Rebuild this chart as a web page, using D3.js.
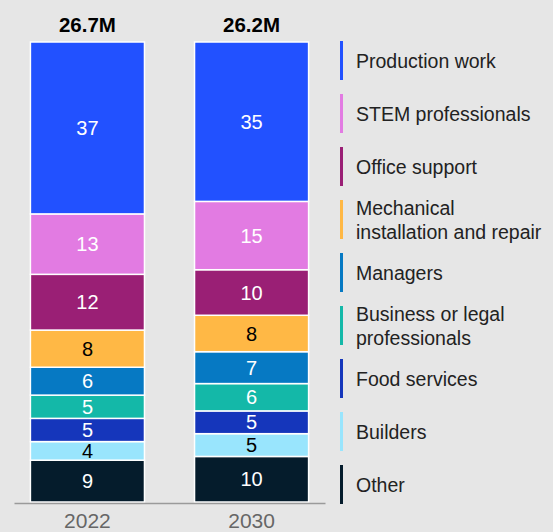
<!DOCTYPE html>
<html lang="en">
<head>
    <meta charset="UTF-8">
    <script src="https://d3js.org/d3.v7.min.js"></script>
    <title>Employment by occupation</title>
    <style>
        body { margin: 0; background-color: #e6e6e6; }
        svg { display: block; font-family: "Liberation Sans", Arial, sans-serif; }
    </style>
</head>
<body>
    <svg width="553" height="532"></svg>
    <script>
    // data
    const years = ["2022", "2030"];
    const totals = ["26.7M", "26.2M"];
    const occupations = ["Production work", "STEM professionals", "Office support",
        "Mechanical installation and repair", "Managers", "Business or legal professionals",
        "Food services", "Builders", "Other"];
    const legendLines = [["Production work"], ["STEM professionals"], ["Office support"],
        ["Mechanical", "installation and repair"], ["Managers"], ["Business or legal", "professionals"],
        ["Food services"], ["Builders"], ["Other"]];
    const values2022 = [37, 13, 12, 8, 6, 5, 5, 4, 9];
    const values2030 = [35, 15, 10, 8, 7, 6, 5, 5, 10];
    const colors = ["#2251ff", "#e27be2", "#9a1f75", "#ffb845", "#0679c3",
        "#14b8a8", "#1536bb", "#99e5fd", "#051c2c"];
    const darkText = ["Mechanical installation and repair", "Builders"];

    const svg = d3.select("svg");
    const plotTop = 42, plotBottom = 502;

    // build rows for the stack
    const rows = years.map((yr, i) => {
        const r = { year: yr };
        const vals = i === 0 ? values2022 : values2030;
        occupations.forEach((o, j) => r[o] = vals[j]);
        return r;
    });

    // top segment first, so reverse key order for stacking from bottom
    const stack = d3.stack()
        .keys(occupations.slice().reverse())
        .offset(d3.stackOffsetExpand);
    const series = stack(rows);

    const x = d3.scaleBand()
        .domain(years)
        .range([14, 325])
        .paddingInner(0.305)
        .paddingOuter(0.1);

    const y = d3.scaleLinear()
        .domain([0, 1])
        .range([plotBottom, plotTop]);

    const color = d3.scaleOrdinal()
        .domain(occupations)
        .range(colors);

    const groups = svg.append("g").selectAll("g")
        .data(series)
        .join("g")
        .attr("fill", d => color(d.key));

    groups.selectAll("rect")
        .data(d => d.map(p => ({ key: d.key, p: p })))
        .join("rect")
        .attr("x", d => x(d.p.data.year))
        .attr("y", d => y(d.p[1]))
        .attr("width", x.bandwidth())
        .attr("height", d => y(d.p[0]) - y(d.p[1]))
        .attr("stroke", "#fff")
        .attr("stroke-width", 1.5);

    groups.selectAll("text")
        .data(d => d.map(p => ({ key: d.key, p: p })))
        .join("text")
        .attr("x", d => x(d.p.data.year) + x.bandwidth() / 2)
        .attr("y", d => (y(d.p[0]) + y(d.p[1])) / 2)
        .attr("dy", "0.36em")
        .attr("text-anchor", "middle")
        .attr("font-size", 20)
        .attr("fill", d => darkText.includes(d.key) ? "#000" : "#fff")
        .text(d => d.p.data[d.key]);

    // totals above bars
    svg.append("g").selectAll("text")
        .data(years)
        .join("text")
        .attr("x", d => x(d) + x.bandwidth() / 2)
        .attr("y", 32)
        .attr("text-anchor", "middle")
        .attr("font-size", 20.5)
        .attr("font-weight", "bold")
        .attr("fill", "#000")
        .text((d, i) => totals[i]);

    // x axis
    const xAxis = svg.append("g")
        .attr("transform", `translate(0,${plotBottom + 1})`)
        .call(d3.axisBottom(x).tickSize(0).tickSizeOuter(0).tickPadding(10));
    xAxis.select(".domain").attr("stroke", "#9a9a9a").attr("stroke-width", 1.5);
    xAxis.selectAll("text")
        .attr("font-size", 21)
        .attr("font-family", "Liberation Sans, Arial, sans-serif")
        .attr("fill", "#666");

    // legend
    const legend = svg.append("g").selectAll("g")
        .data(occupations)
        .join("g")
        .attr("transform", (d, i) => `translate(340,${41 + i * 53})`);

    legend.append("rect")
        .attr("width", 3)
        .attr("height", 39)
        .attr("fill", d => color(d));

    legend.append("text")
        .attr("x", 16)
        .attr("font-size", 19.5)
        .attr("fill", "#222")
        .each(function (d, i) {
            const lines = legendLines[i];
            const t = d3.select(this);
            const start = 20 - (lines.length - 1) * 12;
            lines.forEach((l, k) => {
                t.append("tspan")
                    .attr("x", 16)
                    .attr("y", start + k * 24)
                    .attr("dy", "0.35em")
                    .text(l);
            });
        });
    </script>
</body>
</html>
